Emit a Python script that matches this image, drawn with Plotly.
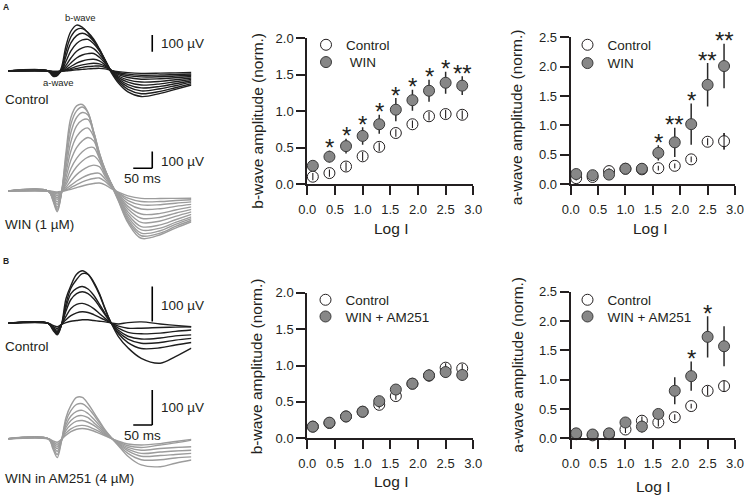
import plotly.graph_objects as go

# ---------------- data ----------------
LOG_I = [0.1, 0.4, 0.7, 1.0, 1.3, 1.6, 1.9, 2.2, 2.5, 2.8]

# Row A, b-wave
A_B_CTRL = [0.10, 0.15, 0.24, 0.38, 0.51, 0.70, 0.82, 0.93, 0.96, 0.95]
A_B_CTRL_ERR = [0.05, 0.05, 0.06, 0.06, 0.06, 0.05, 0.05, 0.06, 0.06, 0.06]
A_B_WIN = [0.25, 0.375, 0.52, 0.66, 0.82, 1.02, 1.15, 1.28, 1.39, 1.35]
A_B_WIN_ERR = [0.05, 0.08, 0.10, 0.12, 0.13, 0.16, 0.145, 0.15, 0.15, 0.13]
A_B_SIG = ["", "*", "*", "*", "*", "*", "*", "*", "*", "**"]

# Row A, a-wave
A_A_CTRL = [0.10, 0.12, 0.22, 0.26, 0.25, 0.27, 0.31, 0.42, 0.72, 0.73]
A_A_CTRL_ERR = [0.04, 0.04, 0.05, 0.04, 0.04, 0.04, 0.04, 0.05, 0.06, 0.14]
A_A_WIN = [0.17, 0.15, 0.16, 0.26, 0.26, 0.53, 0.71, 1.02, 1.69, 2.01]
A_A_WIN_ERR = [0.06, 0.06, 0.06, 0.05, 0.08, 0.13, 0.25, 0.35, 0.37, 0.38]
A_A_SIG = ["", "", "", "", "", "*", "**", "*", "**", "**"]

# Row B, b-wave
B_B_CTRL = [0.16, 0.21, 0.30, 0.365, 0.46, 0.58, 0.75, 0.86, 0.97, 0.96]
B_B_CTRL_ERR = [0.04, 0.05, 0.05, 0.05, 0.05, 0.05, 0.05, 0.05, 0.06, 0.06]
B_B_WIN = [0.16, 0.215, 0.30, 0.365, 0.51, 0.67, 0.75, 0.865, 0.91, 0.87]
B_B_WIN_ERR = [0.04, 0.07, 0.05, 0.06, 0.05, 0.06, 0.05, 0.08, 0.08, 0.08]
B_B_SIG = ["", "", "", "", "", "", "", "", "", ""]

# Row B, a-wave
B_A_CTRL = [0.07, 0.05, 0.07, 0.15, 0.30, 0.27, 0.36, 0.55, 0.81, 0.89]
B_A_CTRL_ERR = [0.04, 0.03, 0.04, 0.06, 0.07, 0.07, 0.05, 0.04, 0.08, 0.09]
B_A_WIN = [0.085, 0.065, 0.085, 0.27, 0.20, 0.415, 0.81, 1.06, 1.73, 1.57]
B_A_WIN_ERR = [0.05, 0.04, 0.08, 0.06, 0.10, 0.07, 0.23, 0.25, 0.35, 0.34]
B_A_SIG = ["", "", "", "", "", "", "", "*", "*", ""]

# ERG traces: time (ms from flash) and voltage (uV) samples
T_MS = [-110, -5, 8, 19, 30, 42, 55, 70, 85, 100, 115, 130, 145, 160, 180, 205, 240, 290, 330, 372]

ERG_A_CTRL = [
    [0, 0, -32, -28, 20, 150, 238, 275, 262, 228, 183, 125, 60, -5, -72, -125, -153, -134, -110, -84],
    [0, 0, -28, -25, 8, 118, 205, 248, 254, 230, 190, 132, 66, 0, -62, -110, -136, -122, -100, -76],
    [0, 0, -25, -22, 3, 88, 168, 212, 226, 212, 178, 128, 66, 2, -54, -95, -119, -106, -88, -67],
    [0, 0, -21, -18, 0, 58, 120, 165, 186, 189, 163, 120, 63, 3, -46, -81, -101, -92, -76, -58],
    [0, 0, -16, -14, -1, 34, 78, 118, 138, 146, 134, 100, 55, 4, -38, -67, -84, -77, -64, -50],
    [0, 0, -12, -10, -1, 19, 48, 78, 96, 104, 105, 82, 46, 5, -30, -53, -66, -62, -52, -42],
    [0, 0, -8, -7, -1, 9, 27, 47, 60, 68, 70, 60, 36, 5, -22, -39, -49, -46, -40, -33],
    [0, 0, -5, -5, -1, 5, 15, 28, 37, 43, 46, 43, 29, 5, -15, -28, -35, -34, -30, -25],
    [0, 0, -3, -3, -1, 2, 8, 15, 22, 27, 29, 30, 22, 5, -9, -19, -25, -24, -21, -18],
    [0, 0, -2, -2, -1, 1, 3, 7, 10, 13, 15, 16, 13, 4, -4, -10, -14, -13, -11, -9],
]

ERG_A_WIN = [
    [0, 0, -60, -124, -15, 230, 440, 510, 518, 470, 340, 200, 110, 40, -60, -190, -283, -262, -222, -184],
    [0, 0, -55, -115, -14, 200, 400, 480, 503, 470, 350, 215, 120, 45, -55, -180, -268, -252, -212, -175],
    [0, 0, -50, -105, -13, 170, 350, 440, 470, 455, 355, 225, 125, 48, -50, -168, -252, -238, -200, -165],
    [0, 0, -45, -95, -12, 140, 295, 390, 425, 428, 350, 228, 128, 50, -45, -155, -233, -222, -188, -155],
    [0, 0, -38, -80, -10, 110, 240, 325, 365, 377, 325, 220, 125, 50, -40, -140, -213, -203, -172, -140],
    [0, 0, -31, -65, -9, 80, 185, 260, 300, 320, 300, 210, 120, 50, -35, -125, -188, -180, -152, -125],
    [0, 0, -24, -50, -7, 55, 135, 195, 235, 258, 260, 195, 112, 46, -30, -108, -163, -157, -133, -110],
    [0, 0, -19, -40, -6, 38, 95, 145, 180, 203, 210, 175, 100, 42, -25, -92, -138, -134, -114, -95],
    [0, 0, -13, -28, -5, 22, 60, 98, 125, 145, 155, 145, 88, 36, -20, -74, -108, -106, -92, -80],
    [0, 0, -8, -18, -4, 12, 35, 60, 80, 96, 105, 106, 72, 30, -15, -57, -83, -82, -73, -65],
    [0, 0, -5, -10, -3, 6, 20, 38, 54, 67, 75, 78, 57, 24, -11, -43, -63, -63, -57, -52],
    [0, 0, -3, -5, -2, 3, 10, 20, 30, 39, 45, 48, 37, 16, -7, -29, -44, -45, -44, -43],
]

ERG_B_CTRL = [
    [0, 0, -20, -33, -5, 70, 108, 140, 150, 140, 115, 82, 40, 3, -38, -70, -100, -114, -95, -71],
    [0, 0, -18, -30, -5, 55, 100, 125, 142, 140, 118, 85, 42, 3, -30, -55, -72, -70, -62, -55],
    [0, 0, -16, -27, -5, 45, 85, 100, 105, 98, 80, 55, 28, 2, -25, -45, -57, -55, -48, -43],
    [0, 0, -14, -24, -5, 35, 68, 85, 90, 85, 70, 48, 24, 2, -20, -37, -45, -42, -36, -33],
    [0, 0, -12, -20, -4, 20, 42, 54, 57, 52, 42, 28, 14, 1, -14, -26, -30, -28, -23, -19],
    [0, 0, -9, -15, -3, 10, 22, 30, 33, 31, 25, 17, 9, 1, -8, -14, -14, -12, -11, -10],
    [0, 0, -6, -10, -3, 2, 6, 8, 10, 10, 8, 6, 4, 1, -2, 2, 4, -2, -6, -10],
]

ERG_B_WIN = [
    [0, 0, -30, -54, -8, 60, 95, 118, 118, 100, 75, 50, 25, 5, -20, -50, -75, -80, -70, -61],
    [0, 0, -25, -45, -7, 50, 80, 98, 100, 88, 68, 45, 23, 4, -18, -42, -60, -60, -55, -52],
    [0, 0, -20, -36, -6, 40, 65, 78, 81, 72, 56, 38, 20, 3, -15, -35, -50, -48, -45, -42],
    [0, 0, -16, -28, -5, 32, 52, 64, 66, 60, 46, 32, 16, 3, -13, -30, -42, -38, -35, -33],
    [0, 0, -12, -22, -4, 24, 40, 50, 52, 47, 38, 26, 13, 2, -11, -25, -33, -28, -25, -23],
    [0, 0, -9, -16, -3, 16, 28, 36, 38, 35, 28, 20, 10, 2, -9, -20, -25, -18, -12, -4],
    [0, 0, -6, -10, -2, 10, 20, 27, 29, 27, 22, 15, 8, 1, -7, -15, -18, -14, -8, -2],
]

# ---------------- layout helpers ----------------
W, H = 744, 497
FONT = "Arial, Liberation Sans, sans-serif"
INK = "#231f20"
GRAY_FILL = "#878787"
TRACE_BLACK = "#1e1e1e"
TRACE_GRAY = "#9c9c9c"


def fx(p):
    return p / W


def fy(p):
    return 1 - p / H


fig = go.Figure()
annotations = []
shapes = []
layout = {}

# ---------------- scatter panels ----------------
scatter_panels = [
    dict(n=1, xp=(307.3, 473.3), yp=(38.3, 184.0), ymax=2.0,
         c=A_B_CTRL, ce=A_B_CTRL_ERR, w=A_B_WIN, we=A_B_WIN_ERR, sig=A_B_SIG,
         wname="\u00a0WIN", leg=(326.0, 45.0, 62.3), yt="b-wave amplitude (norm.)",
         ytp=(256.7, 121.0), xtp=(390.5, 228.0)),
    dict(n=2, xp=(570.7, 735.0), yp=(37.3, 184.0), ymax=2.5,
         c=A_A_CTRL, ce=A_A_CTRL_ERR, w=A_A_WIN, we=A_A_WIN_ERR, sig=A_A_SIG,
         wname="WIN", leg=(587.5, 45.0, 63.3), yt="a-wave amplitude (norm.)",
         ytp=(516.3, 117.0), xtp=(650.0, 228.0)),
    dict(n=3, xp=(307.3, 473.3), yp=(292.7, 438.3), ymax=2.0,
         c=B_B_CTRL, ce=B_B_CTRL_ERR, w=B_B_WIN, we=B_B_WIN_ERR, sig=B_B_SIG,
         wname="WIN + AM251", leg=(325.5, 300.0, 316.7), yt="b-wave amplitude (norm.)",
         ytp=(256.3, 366.0), xtp=(390.7, 481.3)),
    dict(n=4, xp=(570.7, 735.0), yp=(291.7, 438.3), ymax=2.5,
         c=B_A_CTRL, ce=B_A_CTRL_ERR, w=B_A_WIN, we=B_A_WIN_ERR, sig=B_A_SIG,
         wname="WIN + AM251", leg=(587.5, 300.0, 316.7), yt="a-wave amplitude (norm.)",
         ytp=(516.7, 365.0), xtp=(653.3, 486.0)),
]

tickfont = dict(family=FONT, size=13, color=INK)
for p in scatter_panels:
    n = p["n"]
    xa, ya = f"x{n}", f"y{n}"
    lc, lw = f"legend{2 * n - 1}", f"legend{2 * n}"
    common_axis = dict(showline=True, linewidth=2, linecolor=INK, ticks="outside",
                       ticklen=9, tickwidth=2, tickcolor=INK, showgrid=False,
                       zeroline=False, tickfont=tickfont, tickformat=".1f",
                       tick0=0, dtick=0.5, fixedrange=True, automargin=False,
                       ticklabeloverflow="allow")
    layout[f"xaxis{n}"] = dict(common_axis, domain=[fx(p["xp"][0]), fx(p["xp"][1])],
                               range=[0, 3], anchor=ya, ticklabelstandoff=3)
    layout[f"yaxis{n}"] = dict(common_axis, domain=[fy(p["yp"][1]), fy(p["yp"][0])],
                               range=[0, p["ymax"]], anchor=xa)

    fig.add_trace(go.Scatter(
        x=LOG_I, y=p["c"], mode="markers", name="Control", legend=lc,
        xaxis=xa, yaxis=ya, cliponaxis=False,
        marker=dict(size=11, color="white", line=dict(color=INK, width=1)),
        error_y=dict(type="data", array=p["ce"], color=INK, thickness=1.3, width=0)))
    # control error bars drawn above the open circles
    fig.add_trace(go.Scatter(
        x=LOG_I, y=p["c"], mode="markers", showlegend=False, hoverinfo="skip",
        xaxis=xa, yaxis=ya, cliponaxis=False,
        marker=dict(size=1, color="rgba(0,0,0,0)"),
        error_y=dict(type="data", array=p["ce"], color=INK, thickness=1.1, width=0)))
    fig.add_trace(go.Scatter(
        x=LOG_I, y=p["w"], mode="markers", name=p["wname"], legend=lw,
        xaxis=xa, yaxis=ya, cliponaxis=False,
        marker=dict(size=11, color=GRAY_FILL, line=dict(color="#3a3a3a", width=1)),
        error_y=dict(type="data", array=p["we"], color="#2a2a2a", thickness=1.5, width=0)))

    lx, ly1, ly2 = p["leg"]
    for key, yy in ((lc, ly1), (lw, ly2)):
        layout[key] = dict(x=fx(lx - 20), y=fy(yy), xanchor="left", yanchor="middle",
                           bgcolor="rgba(0,0,0,0)", borderwidth=0,
                           font=dict(family=FONT, size=13.5, color=INK))

    for xv, m, e, s in zip(LOG_I, p["w"], p["we"], p["sig"]):
        if s:
            annotations.append(dict(x=xv, y=m + e, xref=xa, yref=ya, text=s, showarrow=False,
                                    yanchor="middle", xanchor="center", yshift=3,
                                    font=dict(family=FONT, size=24, color=INK)))
    annotations.append(dict(x=fx(p["ytp"][0]), y=fy(p["ytp"][1]), xref="paper", yref="paper",
                            text=p["yt"], textangle=-90, showarrow=False,
                            xanchor="center", yanchor="middle",
                            font=dict(family=FONT, size=15.5, color=INK)))
    annotations.append(dict(x=fx(p["xtp"][0]), y=fy(p["xtp"][1]), xref="paper", yref="paper",
                            text="Log I", showarrow=False, xanchor="center", yanchor="middle",
                            font=dict(family=FONT, size=15.5, color=INK)))

# ---------------- ERG trace panels ----------------
T_PX = (8.2, 191.4)          # horizontal extent of the sweeps
T_RANGE = [-110, 372]
trace_panels = [
    dict(n=5, data=ERG_A_CTRL, color=TRACE_BLACK, base=71.0, k=0.167, top=15, bottom=110,
         bar=115, hbar=False),
    dict(n=6, data=ERG_A_WIN, color=TRACE_GRAY, base=191.0, k=0.167, top=98, bottom=245,
         bar=136, hbar=True),
    dict(n=7, data=ERG_B_CTRL, color=TRACE_BLACK, base=323.3, k=0.35, top=262, bottom=370,
         bar=5, hbar=False),
    dict(n=8, data=ERG_B_WIN, color=TRACE_GRAY, base=438.7, k=0.35, top=385, bottom=475,
         bar=39, hbar=True),
]
for p in trace_panels:
    n = p["n"]
    xa, ya = f"x{n}", f"y{n}"
    ylo = (p["base"] - p["bottom"]) / p["k"]
    yhi = (p["base"] - p["top"]) / p["k"]
    layout[f"xaxis{n}"] = dict(domain=[fx(T_PX[0]), fx(T_PX[1])], range=T_RANGE,
                               visible=False, anchor=ya, fixedrange=True, automargin=False)
    layout[f"yaxis{n}"] = dict(domain=[fy(p["bottom"]), fy(p["top"])], range=[ylo, yhi],
                               visible=False, anchor=xa, fixedrange=True, automargin=False)
    for sweep in p["data"]:
        fig.add_trace(go.Scatter(x=T_MS, y=sweep, mode="lines", showlegend=False,
                                 hoverinfo="skip", xaxis=xa, yaxis=ya,
                                 line=dict(color=p["color"], width=1.4, shape="spline",
                                           smoothing=1.0)))
    # scale bars: 100 uV vertical, 50 ms horizontal
    shapes.append(dict(type="line", xref=xa, yref=ya, x0=269, x1=269,
                       y0=p["bar"], y1=p["bar"] + 100, line=dict(color="black", width=1.6)))
    if p["hbar"]:
        shapes.append(dict(type="line", xref=xa, yref=ya, x0=219, x1=269,
                           y0=p["bar"], y1=p["bar"], line=dict(color="black", width=1.6)))


# ---------------- text labels ----------------
def label(text, x, y, size=13.5, xanchor="left", bold=False):
    annotations.append(dict(x=fx(x), y=fy(y), xref="paper", yref="paper",
                            text=f"<b>{text}</b>" if bold else text, showarrow=False,
                            xanchor=xanchor, yanchor="middle",
                            font=dict(family=FONT, size=size, color=INK)))


label("A", 1.0, 6.5, size=8.5, bold=True)
label("B", 1.0, 260.5, size=8.5, bold=True)
label("b-wave", 80.0, 17.3, size=9.5, xanchor="center")
label("a-wave", 58.3, 82.7, size=9.5, xanchor="center")
label("100 \u00b5V", 159.0, 43.3)
label("Control", 3.0, 99.3)
label("100 \u00b5V", 159.0, 161.7)
label("50 ms", 142.0, 178.3, xanchor="center")
label("WIN (1 \u00b5M)", 3.0, 225.0)
label("100 \u00b5V", 159.0, 305.3)
label("Control", 3.0, 346.7)
label("100 \u00b5V", 159.0, 407.7)
label("50 ms", 142.0, 435.0, xanchor="center")
label("WIN in AM251 (4 \u00b5M)", 3.0, 478.3)

fig.update_layout(
    template="none",
    width=W, height=H, margin=dict(l=0, r=0, t=0, b=0, pad=0, autoexpand=False),
    paper_bgcolor="white", plot_bgcolor="rgba(0,0,0,0)",
    font=dict(family=FONT, color=INK), hovermode=False,
    annotations=annotations, shapes=shapes, **layout)

fig.write_html(
    "out.html",
    config={"displayModeBar": False, "staticPlot": True},
    post_script="document.body.style.margin='0px';"
                "document.documentElement.style.overflow='hidden';",
)
